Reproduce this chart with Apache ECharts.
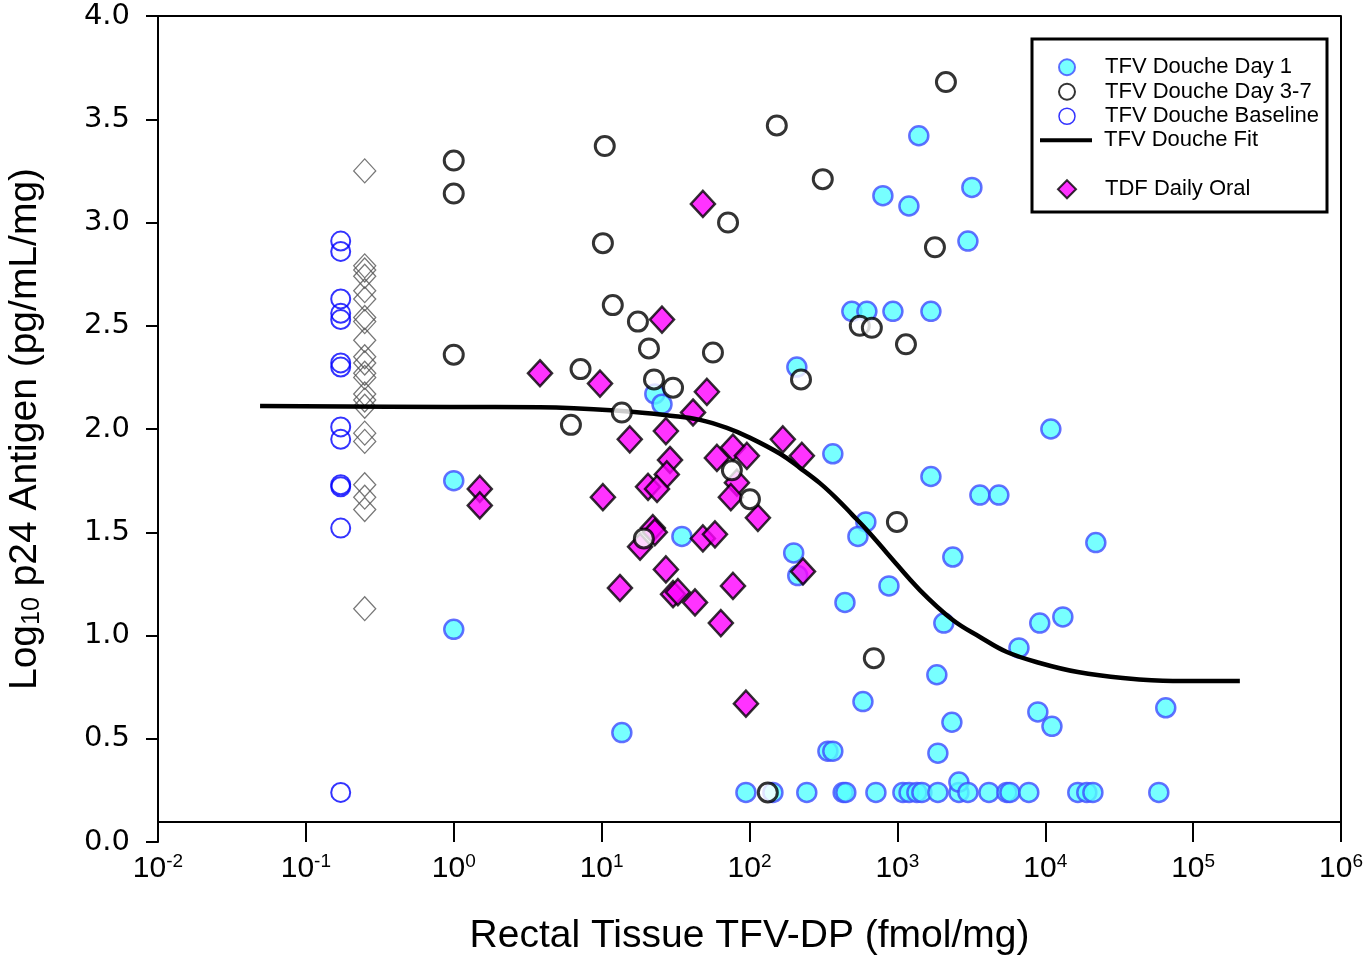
<!DOCTYPE html>
<html>
<head>
<meta charset="utf-8">
<script src="https://cdn.jsdelivr.net/npm/echarts@6/dist/echarts.min.js"></script>
<style>
html, body { margin: 0; padding: 0; background: #fff; }
#main { width: 1368px; height: 958px; }
</style>
</head>
<body>
<div id="main"></div>
<script>
// TFV Douche Baseline, all at one x position
var baselineX = 0.172
var baselineY = [2.91, 2.86, 2.63, 2.56, 2.53, 2.32, 2.30, 2.01, 1.95, 1.73, 1.72, 1.52, 0.24]

// open grey diamonds (oral baseline), not in legend
var oralBaseX = 0.25
var oralBaseY = [3.25, 2.79, 2.77, 2.74, 2.67, 2.63, 2.54, 2.52, 2.43, 2.35, 2.32, 2.27, 2.25,
    2.17, 2.14, 2.11, 1.98, 1.94, 1.73, 1.67, 1.61, 1.13]

// [fmol/mg, log10 p24]
var day1 = [
    [1.0, 1.75], [1.0, 1.03], [13.7, 0.53], [22.9, 2.17], [25.6, 2.12], [34.9, 1.48],
    [1396, 3.42], [798, 3.13], [1197, 3.08], [3190, 3.17], [3000, 2.91],
    [492, 2.57], [622, 2.57], [933, 2.57], [1686, 2.57], [209, 2.30],
    [366, 1.88], [1686, 1.77], [3614, 1.68], [4856, 1.68],
    [612, 1.55], [541, 1.48], [199, 1.40], [212, 1.29], [2371, 1.38], [877, 1.24],
    [442, 1.16], [2061, 1.06], [1849, 0.81], [585, 0.68], [2337, 0.58], [1879, 0.43],
    [339, 0.44], [366, 0.44],
    [10910, 2.00], [21980, 1.45], [9180, 1.06], [13150, 1.09], [6640, 0.94], [65300, 0.65],
    [8910, 0.63], [11100, 0.56],
    [94.6, 0.24], [144, 0.24], [244, 0.24], [430, 0.24], [448, 0.24], [716, 0.24], [1090, 0.24],
    [1200, 0.24], [1355, 0.24], [1465, 0.24], [1879, 0.24], [2606, 0.24], [2606, 0.29],
    [3000, 0.24], [4160, 0.24], [5500, 0.24], [5770, 0.24], [7740, 0.24], [16600, 0.24],
    [19100, 0.24], [21000, 0.24], [58600, 0.24]
]

var day37 = [
    [1.0, 3.30], [1.0, 3.14], [1.0, 2.36], [10.5, 3.37], [10.2, 2.90], [11.9, 2.60],
    [17.6, 2.52], [20.9, 2.39], [22.6, 2.24], [30.4, 2.20], [13.7, 2.08], [6.2, 2.02],
    [7.2, 2.29], [56.6, 2.37], [71.6, 3.00], [153, 3.47], [313, 3.21], [2130, 3.68],
    [1795, 2.88], [1143, 2.41], [557, 2.50], [672, 2.49], [223, 2.24], [76, 1.80],
    [100.7, 1.66], [19.3, 1.47], [993, 1.55], [693, 0.89], [133, 0.24]
]

var tdfOral = [
    [3.83, 2.27], [1.50, 1.71], [1.50, 1.63], [9.75, 2.22], [10.2, 1.67], [15.5, 1.95],
    [13.3, 1.23], [25.6, 2.53], [27.2, 1.99], [29.0, 1.85], [27.6, 1.78], [20.6, 1.72],
    [23.7, 1.71], [22.2, 1.52], [22.9, 1.50], [18.2, 1.43], [27.2, 1.32], [30.4, 1.20],
    [32.8, 1.21], [42.8, 1.16], [41.5, 2.08], [48.4, 3.09], [51.5, 2.18], [60.2, 1.86],
    [77.3, 1.91], [96.0, 1.87], [82.2, 1.74], [74.8, 1.67], [114, 1.57], [48.4, 1.47],
    [58.4, 1.49], [77.3, 1.24], [64.0, 1.06], [94.6, 0.67], [168, 1.95], [226, 1.87],
    [230, 1.31]
]

// fit curve
var fitCurve = [
    [0.049, 2.111], [0.94, 2.107], [3.83, 2.105], [13.7, 2.087], [30.4, 2.063], [46.2, 2.044],
    [70.3, 2.005], [101, 1.957], [161, 1.880], [219, 1.812], [299, 1.738], [390, 1.662],
    [500, 1.582], [622, 1.511], [849, 1.400], [1419, 1.220], [2371, 1.075], [3614, 0.993],
    [5500, 0.920], [9180, 0.867], [16600, 0.823], [33500, 0.794], [72900, 0.780], [207000, 0.780]
]

var yTicks = { min: 0, max: 4, step: 0.5 }
var xRange = { min: 0.01, max: 1e6 }

var legendDots = ['TFV Douche Day 1', 'TFV Douche Day 3-7', 'TFV Douche Baseline']
var legendLine = ['TFV Douche Fit']
var legendOral = ['TDF Daily Oral']

var myChart = echarts.init(document.getElementById('main'))

var axisFont = 'Liberation Sans, Arial, sans-serif'

function legendText(padLeft) {
    return {
        fontFamily: axisFont,
        fontSize: 22,
        color: '#000',
        lineHeight: 24.5,
        padding: [0, 0, 0, padLeft]
    }
}

var option = {
    animation: false,
    backgroundColor: '#fff',
    grid: {
        left: 158,
        right: 27,
        top: 16,
        bottom: 116,
        outerBoundsMode: 'none',
        containLabel: false
    },
    legend: [{
        orient: 'vertical',
        left: 1058,
        top: 55,
        padding: 0,
        itemWidth: 16,
        itemHeight: 16,
        itemGap: 0,
        selectedMode: false,
        textStyle: legendText(25),
        data: [
            { name: legendDots[0], itemStyle: { borderWidth: 2 } },
            { name: legendDots[1], itemStyle: { borderWidth: 2 } },
            { name: legendDots[2], itemStyle: { borderWidth: 1.5 } }
        ]
    }, {
        orient: 'vertical',
        left: 1040,
        top: 128,
        padding: 0,
        itemWidth: 52,
        itemHeight: 4,
        itemGap: 0,
        icon: 'rect',
        selectedMode: false,
        textStyle: legendText(7),
        itemStyle: { borderWidth: 0 },
        data: legendLine
    }, {
        orient: 'vertical',
        left: 1057,
        top: 177,
        padding: 0,
        itemWidth: 18,
        itemHeight: 18,
        itemGap: 0,
        selectedMode: false,
        textStyle: legendText(24),
        data: [{ name: legendOral[0], itemStyle: { borderWidth: 2 } }]
    }],
    xAxis: [{
        type: 'log',
        logBase: 10,
        min: xRange.min,
        max: xRange.max,
        splitNumber: 8,
        interval: 1,
        offset: -20,
        name: 'Rectal Tissue TFV-DP (fmol/mg)',
        nameLocation: 'middle',
        nameGap: 95,
        nameTextStyle: {
            fontFamily: axisFont,
            fontSize: 39,
            color: '#000'
        },
        axisLine: {
            onZero: false,
            lineStyle: { color: '#000', width: 2 }
        },
        axisTick: {
            length: 20,
            lineStyle: { color: '#000', width: 2 }
        },
        axisLabel: {
            margin: 30,
            formatter: function (v) {
                var p = Math.round(Math.log10(v))
                return '{b|10}{s|' + p + '}'
            },
            rich: {
                b: { fontFamily: axisFont, fontSize: 30, color: '#000' },
                s: { fontFamily: axisFont, fontSize: 19, color: '#000', padding: [0, 0, 14, 0] }
            }
        },
        splitLine: { show: false },
        minorTick: { show: false }
    }, {
        // top frame
        type: 'log',
        logBase: 10,
        min: xRange.min,
        max: xRange.max,
        position: 'top',
        axisLine: {
            onZero: false,
            lineStyle: { color: '#000', width: 2 }
        },
        axisTick: { show: false },
        axisLabel: { show: false },
        splitLine: { show: false }
    }],
    yAxis: {
        type: 'value',
        min: yTicks.min,
        max: yTicks.max,
        interval: yTicks.step,
        name: '{a|Log}{s|10}{a| p24 Antigen (pg/mL/mg)}',
        nameLocation: 'middle',
        nameGap: 113,
        nameTextStyle: {
            rich: {
                a: { fontFamily: axisFont, fontSize: 39, color: '#000' },
                s: { fontFamily: axisFont, fontSize: 25, color: '#000', padding: [14, 0, 0, 0] }
            }
        },
        axisLine: {
            show: true,
            onZero: false,
            lineStyle: { color: '#000', width: 2 }
        },
        axisTick: {
            length: 12,
            lineStyle: { color: '#000', width: 2 }
        },
        axisLabel: {
            margin: 28,
            fontFamily: 'DejaVu Sans, Verdana, sans-serif',
            fontSize: 29,
            color: '#000',
            formatter: function (v) { return v.toFixed(1) }
        },
        splitLine: { show: false }
    },
    graphic: [{
        type: 'line',
        shape: { x1: 1341, y1: 16, x2: 1341, y2: 822 },
        style: { stroke: '#000', lineWidth: 2 }
    }, {
        type: 'rect',
        shape: { x: 1032, y: 39, width: 295, height: 173 },
        style: { fill: 'none', stroke: '#000', lineWidth: 3 }
    }],
    series: [{
        name: 'TFV Douche Baseline',
        type: 'scatter',
        symbol: 'circle',
        symbolSize: 19,
        itemStyle: {
            color: 'rgba(0,0,0,0)',
            borderColor: '#0000ff',
            borderWidth: 2
        },
        data: baselineY.map(function (y) { return [baselineX, y] }),
        z: 2
    }, {
        name: 'TDF Baseline',
        type: 'scatter',
        symbol: 'diamond',
        symbolSize: [22, 24],
        itemStyle: {
            color: 'rgba(0,0,0,0)',
            borderColor: '#555',
            borderWidth: 1.3
        },
        data: oralBaseY.map(function (y) { return [oralBaseX, y] }),
        z: 2
    }, {
        name: 'TFV Douche Day 1',
        type: 'scatter',
        symbol: 'circle',
        symbolSize: 19,
        itemStyle: {
            color: '#55ffff',
            borderColor: '#3f4cff',
            borderWidth: 2.5
        },
        data: day1,
        z: 3
    }, {
        name: 'TDF Daily Oral',
        type: 'scatter',
        symbol: 'diamond',
        symbolSize: [24, 26],
        itemStyle: {
            color: '#ff00ff',
            borderColor: '#000',
            borderWidth: 2.5
        },
        data: tdfOral,
        z: 4
    }, {
        name: 'TFV Douche Fit',
        type: 'line',
        smooth: 0.4,
        showSymbol: false,
        symbol: 'none',
        lineStyle: { color: '#000', width: 4.5 },
        itemStyle: { color: '#000' },
        data: fitCurve,
        z: 5
    }, {
        name: 'TFV Douche Day 3-7',
        type: 'scatter',
        symbol: 'circle',
        symbolSize: 19,
        itemStyle: {
            color: '#fff',
            borderColor: '#000',
            borderWidth: 3
        },
        data: day37,
        z: 6
    }]
}

myChart.setOption(option)
</script>
</body>
</html>
